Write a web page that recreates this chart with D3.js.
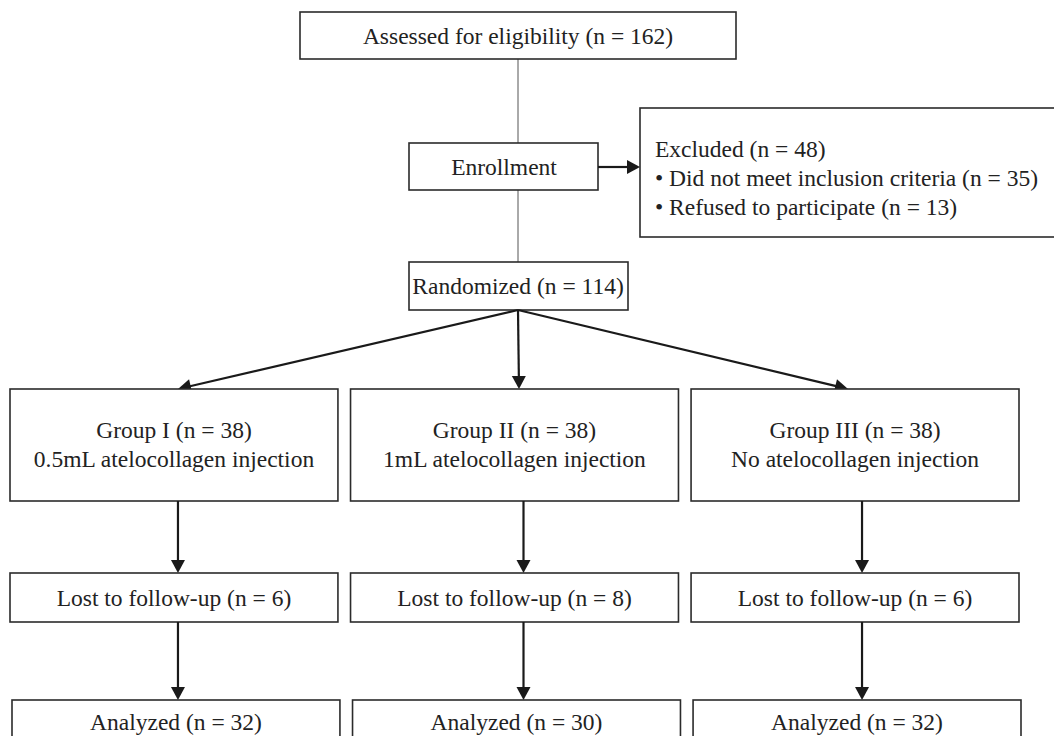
<!DOCTYPE html>
<html lang="en">
<head>
	<meta charset="utf-8">
	<style>
		body { margin: 0; background: white; }
		svg { font-family: 'Liberation Serif', 'Times New Roman', serif; }
		.box { fill: white; stroke: #2b2b2b; stroke-width: 1.6px; }
		.thin { stroke: #555; stroke-width: 1px; }
		.arrow { stroke: #1a1a1a; stroke-width: 2.2px; fill: none; }
		.head { fill: #1a1a1a; }
		text { fill: #222; font-size: 23.5px; }
	</style>
</head>
<body>
	<svg width="1054" height="736"></svg>
	<script src="https://d3js.org/d3.v7.min.js"></script>
	<script>
		// data
		const assessedN = 162;
		const excludedN = 48;
		const excludedReasons = ["Did not meet inclusion criteria", "Refused to participate"];
		const excludedCounts = [35, 13];
		const randomizedN = 114;
		const groups = ["Group I", "Group II", "Group III"];
		const groupN = [38, 38, 38];
		const treatments = ["0.5mL atelocollagen injection", "1mL atelocollagen injection", "No atelocollagen injection"];
		const lostN = [6, 8, 6];
		const analyzedN = [32, 30, 32];

		const svg = d3.select("svg");
		const mid = 518;

		// columns for the three arms
		const col = d3.scaleBand().domain(groups).range([10, 1019]).paddingInner(0.037);
		const arrowShift = [4, 9, 7];
		const ax = (g, i) => col(g) + col.bandwidth() / 2 + arrowShift[i];

		// rows
		const row = {
			assessed: [12, 59],
			enroll: [143, 190],
			random: [262, 310],
			group: [389, 501],
			lost: [573, 622],
			analyzed: [700, 760]
		};

		const box = (x, y0, w, y1) => svg.append("rect").attr("class", "box")
			.attr("x", x).attr("y", y0).attr("width", w).attr("height", y1 - y0);

		const label = (x, y, t, anchor) => svg.append("text")
			.attr("x", x).attr("y", y).attr("text-anchor", anchor || "middle")
			.attr("dominant-baseline", "central").text(t);

		const head = (x, y, dir) => {
			// dir: angle in radians of travel
			const L = 13, W = 7;
			const bx = x - L * Math.cos(dir), by = y - L * Math.sin(dir);
			const px = -Math.sin(dir) * W, py = Math.cos(dir) * W;
			svg.append("path").attr("class", "head")
				.attr("d", d3.line()([[x, y], [bx + px, by + py], [bx - px, by - py]]) + "Z");
		};

		const arrow = (x1, y1, x2, y2) => {
			const dir = Math.atan2(y2 - y1, x2 - x1);
			svg.append("line").attr("class", "arrow")
				.attr("x1", x1).attr("y1", y1)
				.attr("x2", x2 - 10 * Math.cos(dir)).attr("y2", y2 - 10 * Math.sin(dir));
			head(x2, y2, dir);
		};

		// thin spine
		svg.append("line").attr("class", "thin")
			.attr("x1", mid).attr("x2", mid).attr("y1", row.assessed[1]).attr("y2", row.random[0]);

		box(300, row.assessed[0], 436, row.assessed[1]);
		label(mid, (row.assessed[0] + row.assessed[1]) / 2, `Assessed for eligibility (n = ${assessedN})`);

		box(409, row.enroll[0], 189, row.enroll[1]);
		label(504, (row.enroll[0] + row.enroll[1]) / 2, "Enrollment");

		// excluded box
		box(640, 108, 440, 237);
		label(655, 149, `Excluded (n = ${excludedN})`, "start");
		excludedReasons.forEach((r, i) => {
			label(655, 178 + i * 29, `\u2022 ${r} (n = ${excludedCounts[i]})`, "start");
		});
		arrow(598, 167, 640, 167);

		box(409, row.random[0], 219, row.random[1]);
		label(mid, (row.random[0] + row.random[1]) / 2, `Randomized (n = ${randomizedN})`);

		const diagTips = [178, 519, 848];
		groups.forEach((g, i) => {
			const x = col(g), w = col.bandwidth();
			const cx = x + w / 2;
			arrow(mid, row.random[1], diagTips[i], row.group[0]);

			box(x, row.group[0], w, row.group[1]);
			label(cx, 430, `${g} (n = ${groupN[i]})`);
			label(cx, 459, treatments[i]);

			arrow(ax(g, i), row.group[1], ax(g, i), row.lost[0]);
			box(x, row.lost[0], w, row.lost[1]);
			label(cx, (row.lost[0] + row.lost[1]) / 2, `Lost to follow-up (n = ${lostN[i]})`);

			arrow(ax(g, i), row.lost[1], ax(g, i), row.analyzed[0]);
			box(x + 2, row.analyzed[0], w, row.analyzed[1]);
			label(cx + 2, 722, `Analyzed (n = ${analyzedN[i]})`);
		});
	</script>
</body>
</html>
